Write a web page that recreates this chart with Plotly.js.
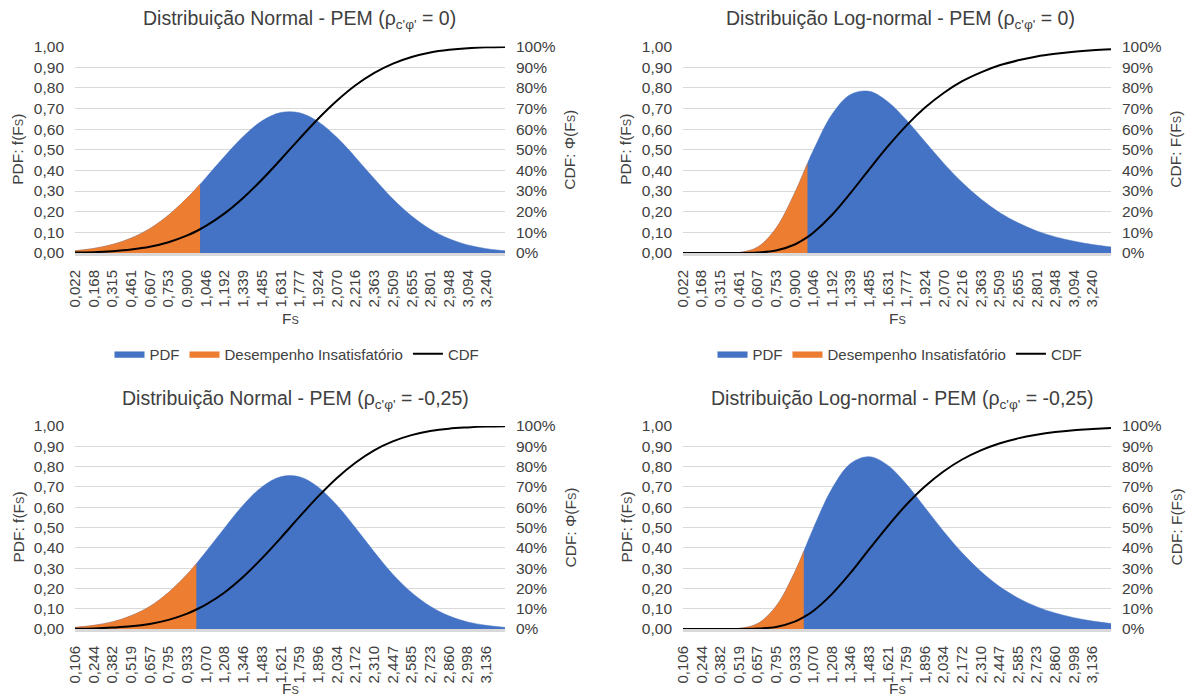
<!DOCTYPE html>
<html>
<head>
<meta charset="utf-8">
<script src="https://cdn.plot.ly/plotly-3.0.1.min.js"></script>
<style>
  html, body { margin: 0; padding: 0; background: #ffffff; }
  #chart { width: 1193px; height: 698px; }
</style>
</head>
<body>
<div id="chart"></div>
<script>
// Fs tick labels (upper row: rho = 0, lower row: rho = -0,25)
const ticksUpper = ['0,022','0,168','0,315','0,461','0,607','0,753','0,900','1,046','1,192','1,339','1,485','1,631',
                    '1,777','1,924','2,070','2,216','2,363','2,509','2,655','2,801','2,948','3,094','3,240'];
const ticksLower = ['0,106','0,244','0,382','0,519','0,657','0,795','0,933','1,070','1,208','1,346','1,483','1,621',
                    '1,759','1,896','2,034','2,172','2,310','2,447','2,585','2,723','2,860','2,998','3,136'];

// Fs sample points (1,000 = limit of unsatisfactory performance)
const fsUpper = [0.022,0.168,0.315,0.461,0.607,0.753,0.900,1.000,1.046,1.192,1.339,1.485,1.631,
                 1.777,1.924,2.070,2.216,2.363,2.509,2.655,2.801,2.948,3.094,3.240,3.385];
const fsLower = [0.106,0.244,0.382,0.519,0.657,0.795,0.933,1.000,1.070,1.208,1.346,1.483,1.621,
                 1.759,1.896,2.034,2.172,2.310,2.447,2.585,2.723,2.860,2.998,3.136,3.274];

// Normal distribution, rho = 0
const pdfNormal0 = [0.011,0.022,0.041,0.072,0.118,0.183,0.267,0.333,0.365,0.468,0.565,0.640,0.680,
                    0.679,0.636,0.560,0.463,0.359,0.261,0.179,0.115,0.069,0.039,0.021,0.011];
const cdfNormal0 = [0.002,0.004,0.009,0.017,0.030,0.052,0.085,0.115,0.131,0.192,0.268,0.356,0.453,
                    0.553,0.650,0.737,0.812,0.872,0.917,0.949,0.971,0.984,0.992,0.996,0.998];

// Log-normal distribution, rho = 0
const pdfLogn0 = [0.000,0.000,0.000,0.002,0.028,0.120,0.291,0.434,0.497,0.671,0.768,0.783,0.733,
                  0.644,0.539,0.435,0.341,0.261,0.196,0.146,0.107,0.078,0.057,0.041,0.029];
const cdfLogn0 = [0.000,0.000,0.000,0.000,0.002,0.012,0.041,0.077,0.098,0.184,0.291,0.405,0.516,
                  0.617,0.704,0.775,0.832,0.875,0.909,0.933,0.952,0.965,0.975,0.982,0.987];

// Normal distribution, rho = -0,25
const pdfNormal25 = [0.008,0.018,0.035,0.065,0.111,0.180,0.270,0.322,0.380,0.498,0.611,0.700,0.750,
                     0.750,0.700,0.611,0.499,0.380,0.270,0.180,0.112,0.065,0.035,0.018,0.008];
const cdfNormal25 = [0.001,0.003,0.007,0.013,0.025,0.045,0.076,0.096,0.120,0.180,0.257,0.348,0.448,
                     0.552,0.652,0.743,0.819,0.880,0.924,0.955,0.975,0.987,0.993,0.997,0.999];

// Log-normal distribution, rho = -0,25
const pdfLogn25 = [0.000,0.000,0.000,0.003,0.026,0.112,0.280,0.383,0.495,0.691,0.815,0.849,0.807,
                   0.714,0.599,0.482,0.375,0.284,0.210,0.153,0.110,0.079,0.056,0.039,0.027];
const cdfLogn25 = [0.000,0.000,0.000,0.000,0.002,0.010,0.036,0.059,0.089,0.172,0.276,0.392,0.506,
                   0.612,0.702,0.776,0.835,0.880,0.914,0.939,0.957,0.970,0.979,0.985,0.990];

const FS_LIMIT = 1.0;

const W = 1193, H = 698;
const BLUE = '#4472C4', ORANGE = '#ED7D31', TEXT = '#404040', GRID = '#d9d9d9';
const FONT = 'Liberation Sans, Arial, sans-serif';
const FS_TXT = 'F<span style="font-size:11px">S</span>';

const toNum = s => parseFloat(s.replace(',', '.'));
const px2x = p => p / W;
const py2y = p => 1 - p / H;

// panel boxes in pixels: left, right, top (y = 1,00), bottom (y = 0,00)
const panels = [
  { title: 'Distribuição Normal - PEM (ρ<sub>c\'φ\'</sub> = 0)', cdfName: 'Φ', fs: fsUpper, ticks: ticksUpper,
    pdf: pdfNormal0, cdf: cdfNormal0, box: [75, 505, 46.5, 253], titleX: 299, titleY: 19, xTitleY: 318, legend: 'legend' },
  { title: 'Distribuição Log-normal - PEM (ρ<sub>c\'φ\'</sub> = 0)', cdfName: 'F', fs: fsUpper, ticks: ticksUpper,
    pdf: pdfLogn0, cdf: cdfLogn0, box: [683, 1111, 46.5, 253], titleX: 900, titleY: 19, xTitleY: 318, legend: 'legend2' },
  { title: 'Distribuição Normal - PEM (ρ<sub>c\'φ\'</sub> = -0,25)', cdfName: 'Φ', fs: fsLower, ticks: ticksLower,
    pdf: pdfNormal25, cdf: cdfNormal25, box: [75, 505, 426, 629], titleX: 295, titleY: 399, xTitleY: 688, legend: null },
  { title: 'Distribuição Log-normal - PEM (ρ<sub>c\'φ\'</sub> = -0,25)', cdfName: 'F', fs: fsLower, ticks: ticksLower,
    pdf: pdfLogn25, cdf: cdfLogn25, box: [683, 1111, 426, 629], titleX: 902, titleY: 399, xTitleY: 688, legend: null }
];

const data = [];
const legendBase = {
  orientation: 'h', xanchor: 'center', yanchor: 'middle', y: py2y(354),
  font: { family: FONT, size: 15, color: TEXT }, bgcolor: 'rgba(0,0,0,0)', itemwidth: 30
};
const layout = {
  width: W, height: H,
  margin: { l: 0, r: 0, t: 0, b: 0 },
  paper_bgcolor: '#ffffff', plot_bgcolor: 'rgba(0,0,0,0)',
  separators: ',.',
  font: { family: FONT, color: TEXT, size: 15 },
  annotations: [],
  legend: Object.assign({}, legendBase, { x: px2x(297) }),
  legend2: Object.assign({}, legendBase, { x: px2x(900) })
};

panels.forEach((p, i) => {
  const n = i + 1;
  const xName = n === 1 ? 'x' : 'x' + n;
  const yL = 2 * i + 1, yR = 2 * i + 2;
  const yLName = yL === 1 ? 'y' : 'y' + yL;
  const yRName = 'y' + yR;
  const [l, r, t, b] = p.box;
  const showLeg = p.legend !== null;

  const fsOrange = p.fs.filter(v => v <= FS_LIMIT);
  const pdfOrange = p.pdf.slice(0, fsOrange.length);

  data.push({
    type: 'scatter', mode: 'lines', name: 'PDF', x: p.fs, y: p.pdf,
    xaxis: xName, yaxis: yLName, fill: 'tozeroy', fillcolor: BLUE,
    line: { color: BLUE, width: 0.5, shape: 'spline', smoothing: 1 },
    showlegend: showLeg, legend: p.legend || 'legend', hoverinfo: 'skip'
  });
  data.push({
    type: 'scatter', mode: 'lines', name: 'Desempenho Insatisfatório', x: fsOrange, y: pdfOrange,
    xaxis: xName, yaxis: yLName, fill: 'tozeroy', fillcolor: ORANGE,
    line: { color: ORANGE, width: 0.5, shape: 'spline', smoothing: 1 },
    showlegend: showLeg, legend: p.legend || 'legend', hoverinfo: 'skip'
  });
  data.push({
    type: 'scatter', mode: 'lines', name: 'CDF', x: p.fs, y: p.cdf,
    xaxis: xName, yaxis: yRName,
    line: { color: '#000000', width: 2, shape: 'spline', smoothing: 1 },
    showlegend: showLeg, legend: p.legend || 'legend', hoverinfo: 'skip'
  });

  layout['xaxis' + (n === 1 ? '' : n)] = {
    domain: [px2x(l), px2x(r)], anchor: yLName,
    range: [p.fs[0], p.fs[p.fs.length - 1]],
    tickmode: 'array', tickvals: p.ticks.map(toNum), ticktext: p.ticks, tickangle: -90,
    tickfont: { family: FONT, size: 15, color: TEXT },
    ticks: '', ticklabelstandoff: 8,
    showgrid: false, zeroline: false,
    showline: true, linecolor: GRID, linewidth: 3
  };
  layout['yaxis' + (yL === 1 ? '' : yL)] = {
    domain: [py2y(b), py2y(t)], anchor: xName, range: [0, 1],
    tick0: 0, dtick: 0.1, tickformat: '.2f',
    tickfont: { family: FONT, size: 15.5, color: TEXT },
    ticks: '', ticklabelstandoff: 10,
    showgrid: true, gridcolor: GRID, gridwidth: 1, zeroline: false, showline: false
  };
  layout['yaxis' + yR] = {
    domain: [py2y(b), py2y(t)], anchor: xName, overlaying: yLName, side: 'right', range: [0, 1],
    tick0: 0, dtick: 0.1, tickformat: '.0%',
    tickfont: { family: FONT, size: 15.5, color: TEXT },
    ticks: '', ticklabelstandoff: 10,
    showgrid: false, zeroline: false, showline: false
  };

  const cy = (t + b) / 2;
  layout.annotations.push(
    { text: p.title, x: px2x(p.titleX), y: py2y(p.titleY), xref: 'paper', yref: 'paper',
      xanchor: 'center', yanchor: 'middle', showarrow: false,
      font: { family: FONT, size: 19.5, color: TEXT } },
    { text: 'PDF: f(' + FS_TXT + ')', x: px2x(l - 57), y: py2y(cy), xref: 'paper', yref: 'paper',
      xanchor: 'center', yanchor: 'middle', textangle: -90, showarrow: false,
      font: { family: FONT, size: 15.5, color: TEXT } },
    { text: 'CDF: ' + p.cdfName + '(' + FS_TXT + ')', x: px2x(r + 65), y: py2y(cy), xref: 'paper', yref: 'paper',
      xanchor: 'center', yanchor: 'middle', textangle: -90, showarrow: false,
      font: { family: FONT, size: 15.5, color: TEXT } },
    { text: FS_TXT, x: px2x((l + r) / 2), y: py2y(p.xTitleY), xref: 'paper', yref: 'paper',
      xanchor: 'center', yanchor: 'middle', showarrow: false,
      font: { family: FONT, size: 15.5, color: TEXT } }
  );
});

Plotly.newPlot('chart', data, layout, { staticPlot: true, displayModeBar: false });
</script>
</body>
</html>
